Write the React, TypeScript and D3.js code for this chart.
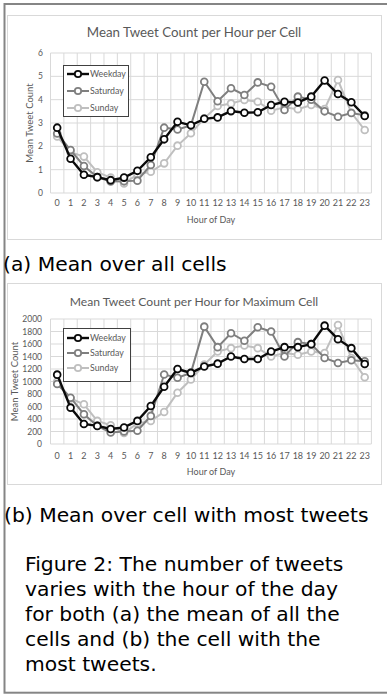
import React from 'react';
import * as d3 from 'd3';

const hours = ['0', '1', '2', '3', '4', '5', '6', '7', '8', '9', '10', '11', '12', '13', '14', '15', '16', '17', '18', '19', '20', '21', '22', '23'];
const seriesNames = ['Weekday', 'Saturday', 'Sunday'];

// (a) mean over all cells
const weekdayAll = [2.8, 1.47, 0.78, 0.68, 0.55, 0.66, 0.95, 1.53, 2.3, 3.05, 2.9, 3.18, 3.24, 3.51, 3.44, 3.46, 3.77, 3.91, 3.88, 4.13, 4.82, 4.24, 3.89, 3.3];
const saturdayAll = [2.55, 1.84, 1.16, 0.68, 0.49, 0.5, 0.53, 1.2, 2.8, 2.72, 2.9, 4.77, 3.93, 4.49, 4.2, 4.74, 4.55, 3.56, 4.13, 4.0, 3.5, 3.27, 3.43, 3.33];
const sundayAll = [2.42, 1.75, 1.56, 0.89, 0.66, 0.41, 0.8, 0.91, 1.27, 2.03, 2.56, 3.2, 3.73, 3.84, 3.99, 3.91, 3.53, 3.67, 3.59, 3.77, 3.6, 4.84, 3.44, 2.7];
const yTicksAll = [0, 1, 2, 3, 4, 5, 6];

// (b) cell with most tweets
const weekdayMax = [1110, 582, 320, 290, 240, 265, 370, 608, 916, 1200, 1138, 1240, 1286, 1400, 1360, 1360, 1480, 1550, 1550, 1598, 1894, 1677, 1534, 1280];
const saturdayMax = [960, 741, 476, 291, 185, 200, 212, 450, 1111, 1060, 1138, 1878, 1550, 1772, 1651, 1868, 1799, 1402, 1630, 1598, 1376, 1296, 1339, 1323];
const sundayMax = [1000, 730, 635, 370, 300, 175, 330, 370, 513, 820, 1032, 1270, 1481, 1534, 1577, 1534, 1402, 1455, 1429, 1481, 1455, 1905, 1376, 1069];
const yTicksMax = [0, 200, 400, 600, 800, 1000, 1200, 1400, 1600, 1800, 2000];

const colors = ['#0a0a0a', '#7f7f7f', '#bfbfbf'];
const widths = [2.4, 2, 2];
const chartFont = 'Lato, "Open Sans", sans-serif';
const labelColor = '#595959';

type PanelProps = {
  title: string;
  values: number[][];
  yTicks: number[];
  box: { x: number; y: number; w: number; h: number };
  plotTop: number;
  plotBottom: number;
  titleY: number;
  tickY: number;
  xTitleY: number;
  yTitleX: number;
  yLabelX: number;
  legend: { x: number; y: number; w: number; h: number; rows: number[] };
  titleSize: number;
};

const Panel: React.FC<PanelProps> = ({
  title,
  values,
  yTicks,
  box,
  plotTop,
  plotBottom,
  titleY,
  tickY,
  xTitleY,
  yTitleX,
  yLabelX,
  legend,
  titleSize,
}) => {
  const x = d3.scaleBand().domain(hours).range([50.5, 371.4]).padding(0);
  const y = d3
    .scaleLinear()
    .domain([yTicks[0], yTicks[yTicks.length - 1]])
    .range([plotBottom, plotTop]);
  const cx = (h: string) => (x(h) ?? 0) + x.bandwidth() / 2;

  const line = d3
    .line<number>()
    .x((_, i) => cx(hours[i]))
    .y((d) => y(d));

  const bounds = [...hours.map((h) => x(h) ?? 0), 371.4];

  return (
    <g>
      <rect x={box.x + 0.5} y={box.y + 0.5} width={box.w} height={box.h} fill="#fff" stroke="#d9d9d9" />
      <text
        x={box.x + box.w / 2}
        y={titleY}
        textAnchor="middle"
        fontFamily={chartFont}
        fontSize={titleSize}
        fill={labelColor}
      >
        {title}
      </text>
      {/* grid */}
      {yTicks.map((t) => (
        <line key={'h' + t} x1={50.5} x2={371.4} y1={y(t)} y2={y(t)} stroke="#d9d9d9" strokeWidth={1} />
      ))}
      {bounds.map((b, i) => (
        <line key={'v' + i} x1={b} x2={b} y1={plotTop} y2={plotBottom} stroke="#d9d9d9" strokeWidth={1} />
      ))}
      {yTicks.map((t) => (
        <text
          key={'yl' + t}
          x={yLabelX}
          y={y(t) + 3}
          textAnchor="end"
          fontFamily={chartFont}
          fontSize={8.5}
          fill={labelColor}
        >
          {t}
        </text>
      ))}
      {hours.map((h) => (
        <text key={'xl' + h} x={cx(h)} y={tickY} textAnchor="middle" fontFamily={chartFont} fontSize={9} fill={labelColor}>
          {h}
        </text>
      ))}
      <text x={211} y={xTitleY} textAnchor="middle" fontFamily={chartFont} fontSize={9} fill={labelColor}>
        Hour of Day
      </text>
      <text
        transform={`translate(${yTitleX},${(plotTop + plotBottom) / 2}) rotate(-90)`}
        textAnchor="middle"
        fontFamily={chartFont}
        fontSize={9.5}
        fill={labelColor}
      >
        Mean Tweet Count
      </text>
      {/* series, drawn back to front */}
      {[2, 1, 0].map((s) => (
        <g key={'s' + s}>
          <path d={line(values[s]) ?? ''} fill="none" stroke={colors[s]} strokeWidth={widths[s]} />
          {values[s].map((v, i) => (
            <circle key={i} cx={cx(hours[i])} cy={y(v)} r={3.4} fill="#fff" stroke={colors[s]} strokeWidth={1.8} />
          ))}
        </g>
      ))}
      {/* legend */}
      <rect x={legend.x + 0.5} y={legend.y + 0.5} width={legend.w} height={legend.h} fill="#fff" stroke="#404040" strokeWidth={1} />
      {seriesNames.map((n, i) => (
        <g key={n}>
          <line x1={legend.x + 4} x2={legend.x + 26} y1={legend.rows[i]} y2={legend.rows[i]} stroke={colors[i]} strokeWidth={widths[i]} />
          <circle cx={legend.x + 15} cy={legend.rows[i]} r={3.2} fill="#fff" stroke={colors[i]} strokeWidth={1.8} />
          <text x={legend.x + 27} y={legend.rows[i] + 3} fontFamily={chartFont} fontSize={8.8} fill={labelColor}>
            {n}
          </text>
        </g>
      ))}
    </g>
  );
};

const captionFont = '"DejaVu Sans", Verdana, sans-serif';
const figureLines = [
  'Figure 2: The number of tweets',
  'varies with the hour of the day',
  'for both (a) the mean of all the',
  'cells and (b) the cell with the',
  'most tweets.',
];

export default function App() {
  return (
    <div style={{ position: 'absolute', left: 0, top: 0 }}>
      <svg width={387} height={694} style={{ display: 'block', background: '#fff' }}>
        <rect x={4.5} y={4} width={400} height={688.7} fill="#fff" stroke="#858585" strokeWidth={2} />
        <Panel
          title="Mean Tweet Count per Hour per Cell"
          values={[weekdayAll, saturdayAll, sundayAll]}
          yTicks={yTicksAll}
          box={{ x: 7, y: 15, w: 374, h: 224 }}
          plotTop={53}
          plotBottom={193}
          titleY={36.5}
          tickY={206}
          xTitleY={223}
          yTitleX={33}
          yLabelX={43}
          legend={{ x: 63, y: 65, w: 65, h: 51, rows: [74, 91, 108] }}
          titleSize={13.3}
        />
        <text x={3} y={271} fontFamily={captionFont} fontSize={20.3} fill="#000">
          (a) Mean over all cells
        </text>
        <Panel
          title="Mean Tweet Count per Hour for Maximum Cell"
          values={[weekdayMax, saturdayMax, sundayMax]}
          yTicks={yTicksMax}
          box={{ x: 7, y: 283, w: 374, h: 201 }}
          plotTop={319}
          plotBottom={444}
          titleY={306}
          tickY={459}
          xTitleY={475}
          yTitleX={18}
          yLabelX={42}
          legend={{ x: 63, y: 328, w: 67, h: 53, rows: [338, 353, 368] }}
          titleSize={12.1}
        />
        <text x={4} y={522} fontFamily={captionFont} fontSize={20.3} fill="#000">
          (b) Mean over cell with most tweets
        </text>
        {figureLines.map((l, i) => (
          <text key={i} x={25} y={571 + i * 25} fontFamily={captionFont} fontSize={20.3} fill="#000">
            {l}
          </text>
        ))}
      </svg>
    </div>
  );
}
